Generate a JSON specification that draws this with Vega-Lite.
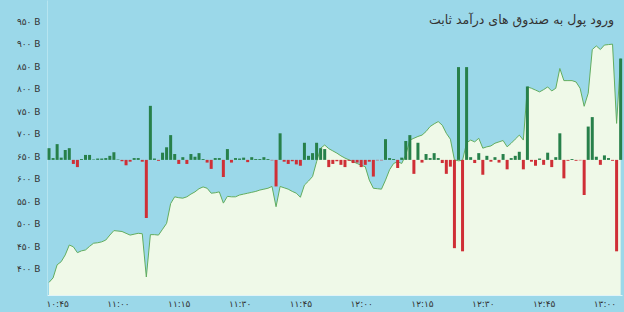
{
  "$schema": "https://vega.github.io/schema/vega-lite/v6.json",
  "width": 575,
  "height": 295,
  "autosize": "none",
  "padding": {"left": 47, "top": 0, "right": 2, "bottom": 17},
  "background": "#9bd8e9",
  "config": {"view": {"stroke": null}, "font": "DejaVu Sans"},
  "title": {"text": "ورود پول به صندوق های درآمد ثابت", "anchor": "end", "frame": "group", "dy": 30, "dx": -8, "fontSize": 12.5, "fontWeight": "normal", "color": "#333333", "font": "DejaVu Sans"},
  "datasets": {
    "total": [
      {"time": "10:43", "total": 370}, {"time": "10:44", "total": 380}, {"time": "10:45", "total": 409}, {"time": "10:46", "total": 416},
      {"time": "10:47", "total": 431}, {"time": "10:48", "total": 453}, {"time": "10:49", "total": 449}, {"time": "10:50", "total": 436},
      {"time": "10:51", "total": 440}, {"time": "10:52", "total": 442}, {"time": "10:53", "total": 450}, {"time": "10:54", "total": 457},
      {"time": "10:55", "total": 458}, {"time": "10:56", "total": 460}, {"time": "10:57", "total": 464}, {"time": "10:58", "total": 475},
      {"time": "10:59", "total": 485}, {"time": "11:00", "total": 484}, {"time": "11:01", "total": 483}, {"time": "11:02", "total": 479},
      {"time": "11:03", "total": 475}, {"time": "11:04", "total": 477}, {"time": "11:05", "total": 479}, {"time": "11:06", "total": 478},
      {"time": "11:07", "total": 382}, {"time": "11:08", "total": 476}, {"time": "11:09", "total": 476}, {"time": "11:10", "total": 475},
      {"time": "11:11", "total": 488}, {"time": "11:12", "total": 501}, {"time": "11:13", "total": 545}, {"time": "11:14", "total": 560},
      {"time": "11:15", "total": 558}, {"time": "11:16", "total": 557}, {"time": "11:17", "total": 560}, {"time": "11:18", "total": 566},
      {"time": "11:19", "total": 571}, {"time": "11:20", "total": 578}, {"time": "11:21", "total": 582}, {"time": "11:22", "total": 579},
      {"time": "11:23", "total": 568}, {"time": "11:24", "total": 569}, {"time": "11:25", "total": 571}, {"time": "11:26", "total": 546},
      {"time": "11:27", "total": 561}, {"time": "11:28", "total": 560}, {"time": "11:29", "total": 560}, {"time": "11:30", "total": 564},
      {"time": "11:31", "total": 566}, {"time": "11:32", "total": 568}, {"time": "11:33", "total": 570}, {"time": "11:34", "total": 572},
      {"time": "11:35", "total": 575}, {"time": "11:36", "total": 577}, {"time": "11:37", "total": 579}, {"time": "11:38", "total": 583},
      {"time": "11:39", "total": 538}, {"time": "11:40", "total": 583}, {"time": "11:41", "total": 580}, {"time": "11:42", "total": 577},
      {"time": "11:43", "total": 572}, {"time": "11:44", "total": 568}, {"time": "11:45", "total": 559}, {"time": "11:46", "total": 586},
      {"time": "11:47", "total": 595}, {"time": "11:48", "total": 605}, {"time": "11:49", "total": 638}, {"time": "11:50", "total": 668},
      {"time": "11:51", "total": 675}, {"time": "11:52", "total": 667}, {"time": "11:53", "total": 662}, {"time": "11:54", "total": 657},
      {"time": "11:55", "total": 651}, {"time": "11:56", "total": 646}, {"time": "11:57", "total": 642}, {"time": "11:58", "total": 638},
      {"time": "11:59", "total": 634}, {"time": "12:00", "total": 630}, {"time": "12:01", "total": 627}, {"time": "12:02", "total": 597},
      {"time": "12:03", "total": 579}, {"time": "12:04", "total": 578}, {"time": "12:05", "total": 577}, {"time": "12:06", "total": 597},
      {"time": "12:07", "total": 620}, {"time": "12:08", "total": 634}, {"time": "12:09", "total": 638}, {"time": "12:10", "total": 634},
      {"time": "12:11", "total": 653}, {"time": "12:12", "total": 686}, {"time": "12:13", "total": 690}, {"time": "12:14", "total": 694},
      {"time": "12:15", "total": 697}, {"time": "12:16", "total": 705}, {"time": "12:17", "total": 716}, {"time": "12:18", "total": 722},
      {"time": "12:19", "total": 727}, {"time": "12:20", "total": 719}, {"time": "12:21", "total": 701}, {"time": "12:22", "total": 688},
      {"time": "12:23", "total": 642}, {"time": "12:24", "total": 640}, {"time": "12:25", "total": 641}, {"time": "12:26", "total": 680},
      {"time": "12:27", "total": 686}, {"time": "12:28", "total": 682}, {"time": "12:29", "total": 690}, {"time": "12:30", "total": 668},
      {"time": "12:31", "total": 671}, {"time": "12:32", "total": 673}, {"time": "12:33", "total": 679}, {"time": "12:34", "total": 682},
      {"time": "12:35", "total": 685}, {"time": "12:36", "total": 671}, {"time": "12:37", "total": 679}, {"time": "12:38", "total": 688},
      {"time": "12:39", "total": 697}, {"time": "12:40", "total": 686}, {"time": "12:41", "total": 804}, {"time": "12:42", "total": 801},
      {"time": "12:43", "total": 797}, {"time": "12:44", "total": 793}, {"time": "12:45", "total": 798}, {"time": "12:46", "total": 804},
      {"time": "12:47", "total": 795}, {"time": "12:48", "total": 801}, {"time": "12:49", "total": 845}, {"time": "12:50", "total": 818},
      {"time": "12:51", "total": 818}, {"time": "12:52", "total": 818}, {"time": "12:53", "total": 815}, {"time": "12:54", "total": 801},
      {"time": "12:55", "total": 761}, {"time": "12:56", "total": 790}, {"time": "12:57", "total": 887}, {"time": "12:58", "total": 895},
      {"time": "12:59", "total": 887}, {"time": "13:00", "total": 897}, {"time": "13:01", "total": 898}, {"time": "13:02", "total": 899},
      {"time": "13:03", "total": 723}, {"time": "13:04", "total": 867}
    ],
    "flow": [
      {"time": "10:43", "flow": 26}, {"time": "10:44", "flow": 4}, {"time": "10:45", "flow": 35}, {"time": "10:46", "flow": 5},
      {"time": "10:47", "flow": 22}, {"time": "10:48", "flow": 26}, {"time": "10:49", "flow": -9}, {"time": "10:50", "flow": -16},
      {"time": "10:51", "flow": 2}, {"time": "10:52", "flow": 11}, {"time": "10:53", "flow": 11}, {"time": "10:54", "flow": 1},
      {"time": "10:55", "flow": 3}, {"time": "10:56", "flow": 3}, {"time": "10:57", "flow": 4}, {"time": "10:58", "flow": 9},
      {"time": "10:59", "flow": 17}, {"time": "11:00", "flow": 1}, {"time": "11:01", "flow": -3}, {"time": "11:02", "flow": -12},
      {"time": "11:03", "flow": -4}, {"time": "11:04", "flow": 4}, {"time": "11:05", "flow": 4}, {"time": "11:06", "flow": -4},
      {"time": "11:07", "flow": -129}, {"time": "11:08", "flow": 120}, {"time": "11:09", "flow": 3}, {"time": "11:10", "flow": -2},
      {"time": "11:11", "flow": 16}, {"time": "11:12", "flow": 28}, {"time": "11:13", "flow": 55}, {"time": "11:14", "flow": 13},
      {"time": "11:15", "flow": -9}, {"time": "11:16", "flow": 6}, {"time": "11:17", "flow": -9}, {"time": "11:18", "flow": 13},
      {"time": "11:19", "flow": 7}, {"time": "11:20", "flow": 15}, {"time": "11:21", "flow": 2}, {"time": "11:22", "flow": -6},
      {"time": "11:23", "flow": -20}, {"time": "11:24", "flow": 4}, {"time": "11:25", "flow": 4}, {"time": "11:26", "flow": -38},
      {"time": "11:27", "flow": 24}, {"time": "11:28", "flow": -6}, {"time": "11:29", "flow": 4}, {"time": "11:30", "flow": 3},
      {"time": "11:31", "flow": 5}, {"time": "11:32", "flow": -5}, {"time": "11:33", "flow": 6}, {"time": "11:34", "flow": 2},
      {"time": "11:35", "flow": 2}, {"time": "11:36", "flow": 6}, {"time": "11:37", "flow": 2}, {"time": "11:38", "flow": -1},
      {"time": "11:39", "flow": -59}, {"time": "11:40", "flow": 59}, {"time": "11:41", "flow": -4}, {"time": "11:42", "flow": -9},
      {"time": "11:43", "flow": -3}, {"time": "11:44", "flow": -10}, {"time": "11:45", "flow": -13}, {"time": "11:46", "flow": 38},
      {"time": "11:47", "flow": 9}, {"time": "11:48", "flow": 15}, {"time": "11:49", "flow": 38}, {"time": "11:50", "flow": 26},
      {"time": "11:51", "flow": 24}, {"time": "11:52", "flow": -16}, {"time": "11:53", "flow": -9}, {"time": "11:54", "flow": -3},
      {"time": "11:55", "flow": -11}, {"time": "11:56", "flow": -16}, {"time": "11:57", "flow": -2}, {"time": "11:58", "flow": -7},
      {"time": "11:59", "flow": -6}, {"time": "12:00", "flow": -16}, {"time": "12:01", "flow": -11}, {"time": "12:02", "flow": -4},
      {"time": "12:03", "flow": -37}, {"time": "12:04", "flow": -1}, {"time": "12:05", "flow": -1}, {"time": "12:06", "flow": 46},
      {"time": "12:07", "flow": 4}, {"time": "12:08", "flow": 2}, {"time": "12:09", "flow": -18}, {"time": "12:10", "flow": 5},
      {"time": "12:11", "flow": 42}, {"time": "12:12", "flow": 55}, {"time": "12:13", "flow": -31}, {"time": "12:14", "flow": 38},
      {"time": "12:15", "flow": -6}, {"time": "12:16", "flow": 13}, {"time": "12:17", "flow": 4}, {"time": "12:18", "flow": 15},
      {"time": "12:19", "flow": 4}, {"time": "12:20", "flow": -7}, {"time": "12:21", "flow": -31}, {"time": "12:22", "flow": -15},
      {"time": "12:23", "flow": -196}, {"time": "12:24", "flow": 206}, {"time": "12:25", "flow": -203}, {"time": "12:26", "flow": 206},
      {"time": "12:27", "flow": 6}, {"time": "12:28", "flow": -7}, {"time": "12:29", "flow": 15}, {"time": "12:30", "flow": -33},
      {"time": "12:31", "flow": 9}, {"time": "12:32", "flow": -4}, {"time": "12:33", "flow": 6}, {"time": "12:34", "flow": -6},
      {"time": "12:35", "flow": 13}, {"time": "12:36", "flow": -21}, {"time": "12:37", "flow": 4}, {"time": "12:38", "flow": 9},
      {"time": "12:39", "flow": 18}, {"time": "12:40", "flow": -21}, {"time": "12:41", "flow": 163}, {"time": "12:42", "flow": -4},
      {"time": "12:43", "flow": -13}, {"time": "12:44", "flow": 3}, {"time": "12:45", "flow": -11}, {"time": "12:46", "flow": 16},
      {"time": "12:47", "flow": -16}, {"time": "12:48", "flow": 6}, {"time": "12:49", "flow": 59}, {"time": "12:50", "flow": -41},
      {"time": "12:51", "flow": -2}, {"time": "12:52", "flow": 2}, {"time": "12:53", "flow": -2}, {"time": "12:54", "flow": -1},
      {"time": "12:55", "flow": -78}, {"time": "12:56", "flow": 74}, {"time": "12:57", "flow": 95}, {"time": "12:58", "flow": 7},
      {"time": "12:59", "flow": -11}, {"time": "13:00", "flow": 10}, {"time": "13:01", "flow": 4}, {"time": "13:02", "flow": -2},
      {"time": "13:03", "flow": -203}, {"time": "13:04", "flow": 225}
    ]
  },
  "layer": [
    {
      "data": {"name": "total", "format": {"parse": {"time": "date:'%H:%M'"}}},
      "mark": {"type": "area", "color": "#eff9e8", "opacity": 1, "line": {"color": "#62ad5f", "strokeWidth": 1}},
      "encoding": {
        "x": {
          "field": "time", "type": "temporal",
          "scale": {"padding": 0, "domain": [
            {"year": 1900, "month": 1, "date": 1, "hours": 10, "minutes": 42, "seconds": 30},
            {"year": 1900, "month": 1, "date": 1, "hours": 13, "minutes": 4, "seconds": 20}
          ]},
          "axis": {
            "title": null, "ticks": false, "grid": false, "labelFlush": false,
            "domainColor": "#e2f4f8", "domainWidth": 1,
            "labelFontSize": 9, "labelColor": "#333333", "labelPadding": 4, "labelFont": "DejaVu Sans",
            "values": [
              {"year": 1900, "month": 1, "date": 1, "hours": 10, "minutes": 45},
              {"year": 1900, "month": 1, "date": 1, "hours": 11, "minutes": 0},
              {"year": 1900, "month": 1, "date": 1, "hours": 11, "minutes": 15},
              {"year": 1900, "month": 1, "date": 1, "hours": 11, "minutes": 30},
              {"year": 1900, "month": 1, "date": 1, "hours": 11, "minutes": 45},
              {"year": 1900, "month": 1, "date": 1, "hours": 12, "minutes": 0},
              {"year": 1900, "month": 1, "date": 1, "hours": 12, "minutes": 15},
              {"year": 1900, "month": 1, "date": 1, "hours": 12, "minutes": 30},
              {"year": 1900, "month": 1, "date": 1, "hours": 12, "minutes": 45},
              {"year": 1900, "month": 1, "date": 1, "hours": 13, "minutes": 0}
            ],
            "labelExpr": "replace(replace(replace(replace(replace(replace(replace(replace(replace(replace(timeFormat(datum.value,'%H:%M'),regexp('0','g'),'۰'),regexp('1','g'),'۱'),regexp('2','g'),'۲'),regexp('3','g'),'۳'),regexp('4','g'),'۴'),regexp('5','g'),'۵'),regexp('6','g'),'۶'),regexp('7','g'),'۷'),regexp('8','g'),'۸'),regexp('9','g'),'۹')"
          }
        },
        "y": {
          "field": "total", "type": "quantitative",
          "scale": {"domain": [342, 997], "zero": false, "nice": false},
          "axis": {
            "title": null, "ticks": false, "grid": false,
            "domainColor": "#b6e5f0", "domainWidth": 1,
            "labelFontSize": 9, "labelColor": "#333333", "labelPadding": 7, "labelFont": "DejaVu Sans",
            "values": [400, 450, 500, 550, 600, 650, 700, 750, 800, 850, 900, 950],
            "labelExpr": "replace(replace(replace(replace(replace(replace(replace(replace(replace(replace(datum.value+' B',regexp('0','g'),'۰'),regexp('1','g'),'۱'),regexp('2','g'),'۲'),regexp('3','g'),'۳'),regexp('4','g'),'۴'),regexp('5','g'),'۵'),regexp('6','g'),'۶'),regexp('7','g'),'۷'),regexp('8','g'),'۸'),regexp('9','g'),'۹')"
          }
        },
        "y2": {"datum": 342}
      }
    },
    {
      "data": {"name": "flow", "format": {"parse": {"time": "date:'%H:%M'"}}},
      "mark": {"type": "bar", "width": 3},
      "encoding": {
        "x": {
          "field": "time", "type": "temporal",
          "scale": {"padding": 0, "domain": [
            {"year": 1900, "month": 1, "date": 1, "hours": 10, "minutes": 42, "seconds": 30},
            {"year": 1900, "month": 1, "date": 1, "hours": 13, "minutes": 4, "seconds": 20}
          ]}
        },
        "y": {"field": "flow", "type": "quantitative", "scale": {"domain": [-300, 355], "zero": false, "nice": false}, "axis": null},
        "y2": {"datum": 0},
        "color": {"condition": {"test": "datum.flow < 0", "value": "#cf2f36"}, "value": "#27804a"}
      }
    }
  ],
  "resolve": {"scale": {"y": "independent"}}
}
